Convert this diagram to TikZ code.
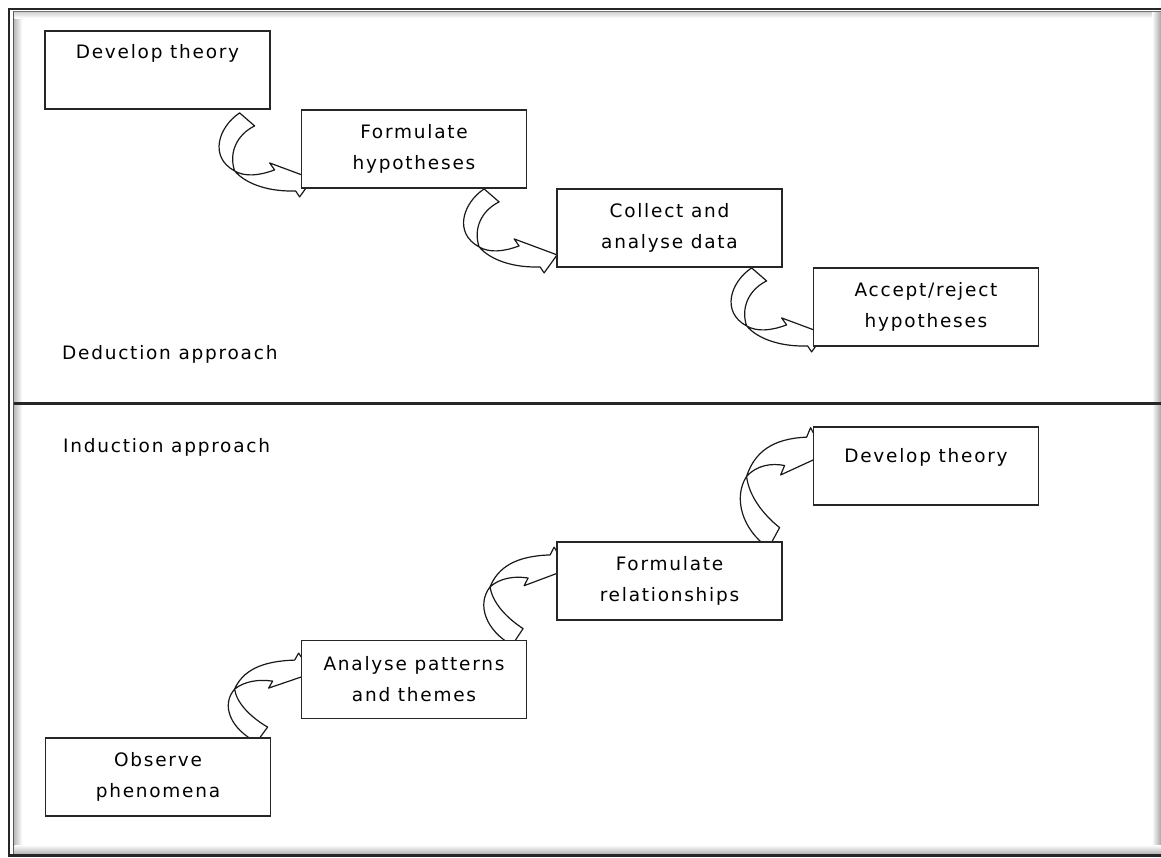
\documentclass[tikz,border=0pt]{standalone}
\usepackage{fontspec}
\setmainfont{DejaVu Sans}[LetterSpace=9.5]
\usetikzlibrary{calc}
\pgfdeclarelayer{under}
\pgfsetlayers{under,main}

\tikzset{
  stage/.style={draw=black!85, line width=1.8, fill=white,
    minimum width=225, minimum height=78, align=center, inner sep=0},
  topline/.style={text height=#1, text depth=78-#1},
  band/.style={draw=black!90, line width=1.2, fill=white, line join=round},
  caption/.style={anchor=west, inner sep=0},
  % curved block arrow falling from one stage to the next (tip hidden under the box)
  pics/fallarrow/.style={code={
    \path[band] (-61,0) .. controls (-82,14) and (-92,44) .. (-66,58)
      .. controls (-54,72) and (-30,79) .. (-5,78) -- (-1,84) -- (12,66)
      -- (-31,50) -- (-26,57) .. controls (-42,63) and (-56,64) .. (-66,58)
      .. controls (-72,40) and (-64,22) .. (-46,13) -- cycle;
  }},
  % curved block arrow rising from one stage to the next
  pics/risearrow/.style={code={
    \path[band] (-44,5) .. controls (-70,-8) and (-80,-32) .. (-66,-48)
      .. controls (-58,-66) and (-40,-76) .. (-6,-77) -- (-2,-84) -- (12,-64)
      -- (-32,-49) -- (-28,-56) .. controls (-42,-58) and (-56,-56) .. (-66,-48)
      .. controls (-64,-34) and (-50,-20) .. (-33,-10) -- cycle;
  }},
}

\begin{document}
\begin{tikzpicture}[x=1pt, y=-1pt, font=\fontsize{18.5}{31}\selectfont]
\useasboundingbox (0,0) rectangle (1161,857);

% soft inner shadow of the frame
\shade[left color=black!25, right color=white] (14.5,12) rectangle (22,854);
\shade[top color=black!18, bottom color=white] (14.5,12) rectangle (1161,18);
\shade[left color=white, right color=black!35] (1152,12) rectangle (1161,854);
\shade[top color=white, bottom color=black!30] (14.5,845) rectangle (1161,854);

% frame
\draw[line width=2, black!85] (8,9) -- (1161,9);
\draw[line width=1, black!55] (13,11.5) -- (1161,11.5);
\draw[line width=2.2, black!85] (9,8) -- (9,856);
\draw[line width=1.6, black!65] (13.5,11) -- (13.5,855);
\draw[line width=2.5, black!85] (8,855.5) -- (1161,855.5);

% divider between the two approaches
\draw[line width=2.6, black!85] (14,403.7) -- (1161,403.7);

% deduction stages
\node[stage, topline=27.5] (d1) at (157.5,70) {Develop theory};
\node[stage] (d2) at (414,149) {Formulate\\hypotheses};
\node[stage] (d3) at (669.5,228) {Collect and\\analyse data};
\node[stage] (d4) at (926,307) {Accept/reject\\hypotheses};
\node[caption] (ded) at (62,354) {Deduction approach};

% induction stages
\node[caption] (ind) at (63,447) {Induction approach};
\node[stage, topline=35] (i4) at (926,466) {Develop theory};
\node[stage] (i3) at (669.5,581) {Formulate\\relationships};
\node[stage] (i2) at (414,679.5) {Analyse patterns\\and themes};
\node[stage] (i1) at (158,777) {Observe\\phenomena};

\begin{pgfonlayer}{under}
  \pic at ($(d2.west |- d1.south)+(0,3)$) {fallarrow};
  \pic at ($(d3.west |- d2.south)+(-11,0)$) {fallarrow};
  \pic at (d4.west |- d3.south) {fallarrow};
  \pic at (i2.west |- i1.north) {risearrow};
  \pic[yscale=1.1] at (i3.west |- i2.north) {risearrow};
  \pic[yscale=1.35] at (i4.west |- i3.north) {risearrow};
\end{pgfonlayer}
\end{tikzpicture}
\end{document}
